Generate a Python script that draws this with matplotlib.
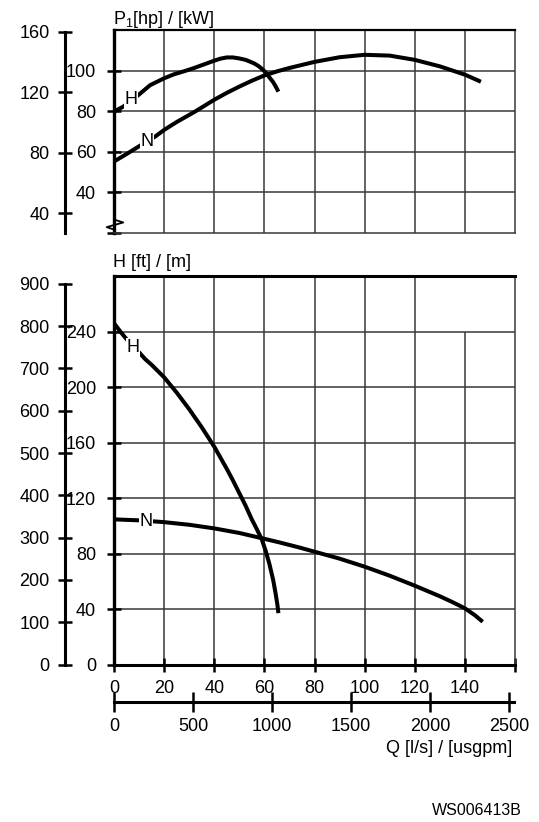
import matplotlib
matplotlib.use("Agg")
import matplotlib.pyplot as plt

plt.rcParams['font.family'] = ['Liberation Sans', 'DejaVu Sans']
plt.rcParams['font.size'] = 13
plt.rcParams['mathtext.fontset'] = 'custom'
plt.rcParams['mathtext.rm'] = 'Liberation Sans'

# power curves, P1 [kW] vs Q [l/s]
q_p_h = [0, 3.7, 9.7, 14.4, 20, 24, 28.3, 32, 36, 40, 42.5, 45, 47.5, 50, 52.5,
         54.3, 56, 57.6, 59, 60.5, 62.3, 63.5, 64.5, 65.6]
p_h = [80, 82.4, 88.1, 93, 96.4, 98.4, 100, 101.5, 103.3, 105.1, 106.1, 106.7, 106.7,
       106.2, 105.5, 104.6, 103.7, 102.5, 101.1, 99.3, 96.4, 94.5, 92.4, 89.8]
q_p_n = [0, 5, 9.7, 16.4, 20, 25, 32.4, 40, 45, 50, 55, 60, 65, 70, 80, 90, 100,
         110, 120, 130, 140, 146.4]
p_n = [55.3, 59, 62.6, 67.6, 70.9, 74.8, 80, 85.8, 89.2, 92.3, 95.2, 97.8, 99.8,
       101.5, 104.5, 106.8, 108, 107.6, 105.5, 102.3, 98.2, 94.7]

# head curves, H [m] vs Q [l/s]
q_h_h = [0, 2.5, 5, 7.5, 10, 12.5, 15, 17.5, 20, 22.5, 25, 27.5, 30, 32.5, 35, 37.5,
         40, 42.5, 45, 47.5, 50, 52.5, 55, 57, 59, 60.5, 62, 63.5, 64.5, 65.2, 65.6]
h_h = [246, 240, 234.5, 229.5, 225, 220, 216, 211.5, 207, 201.5, 196, 190, 184, 177.5,
       171, 164, 157, 149, 141, 132.5, 123.5, 114.5, 104.5, 97.5, 90, 82, 72.5, 61, 51, 43, 37]
q_h_n = [0, 10, 20, 30, 40, 50, 59, 66, 74, 80, 90, 100, 110, 120, 130, 135, 140, 144, 147.1]
h_n = [104.6, 103.9, 102.6, 100.7, 98.1, 94.8, 91, 88, 84.3, 81.3, 76.3, 70.5,
       64, 56.8, 49.2, 45, 40.5, 35.5, 30.8]

q_ticks = [0, 20, 40, 60, 80, 100, 120, 140, 160]
q_labels = ['0', '20', '40', '60', '80', '100', '120', '140', '']
kw_ticks = [20, 40, 60, 80, 100]
kw_labels = ['', '40', '60', '80', '100']
hp_ticks = [40, 80, 120, 160]
m_ticks = [0, 40, 80, 120, 160, 200, 240]
ft_ticks = [0, 100, 200, 300, 400, 500, 600, 700, 800, 900]
gpm_ticks = [0, 500, 1000, 1500, 2000, 2500]

KW2HP = 1.341
M2FT = 3.2808
LS2GPM = 15.85

W, H = 539, 822
def frac(x0, y0, x1, y1):
    return [x0 / W, 1 - y1 / H, (x1 - x0) / W, (y1 - y0) / H]

fig = plt.figure(figsize=(W / 100, H / 100), dpi=100)
grid_c = '#383838'
grid_lw = 1.1
curve_kw = dict(color='black', lw=2.9, solid_capstyle='butt', solid_joinstyle='round', zorder=3)
lab_box = dict(facecolor='white', edgecolor='none', pad=0.5)

# ---- power panel
ax1 = fig.add_axes(frac(114, 30.5, 515, 233))
ax1.set_xlim(0, 160)
ax1.set_ylim(20, 120)
ax1.vlines(q_ticks[1:-1], 20, 120, color=grid_c, lw=grid_lw, zorder=1)
ax1.hlines([40, 60, 80, 100], 0, 160, color=grid_c, lw=grid_lw, zorder=1)
ax1.plot(q_p_h, p_h, **curve_kw)
ax1.plot(q_p_n, p_n, **curve_kw)
ax1.text(6.8, 85.7, 'H', ha='center', va='center', bbox=lab_box, zorder=4)
ax1.text(13.2, 65, 'N', ha='center', va='center', bbox=lab_box, zorder=4)
ax1.set_xticks([])
ax1.set_yticks(kw_ticks)
ax1.set_yticklabels(kw_labels)
ax1.tick_params(axis='y', direction='inout', length=10, width=1.8, pad=8)
ax1.spines['left'].set_linewidth(2.4)
ax1.spines['top'].set_linewidth(1.6)
ax1.spines['right'].set_linewidth(1.1)
ax1.spines['right'].set_color(grid_c)
ax1.spines['bottom'].set_linewidth(grid_lw)
ax1.spines['bottom'].set_color(grid_c)
# axis break mark
ax1.plot([0.4, 3.7, -2.9, 0.4], [26.5, 25.2, 22.9, 21.5], color='black', lw=1.3,
         clip_on=False, zorder=5)
fig.text(113 / W, 1 - 19 / H, r'P$_\mathregular{1}$[hp] / [kW]', ha='left', va='center')

axhp = fig.add_axes(frac(65, 30.5, 66, 233))
axhp.set_ylim(20 * KW2HP, 120 * KW2HP)
for s in ['top', 'right', 'bottom']:
    axhp.spines[s].set_visible(False)
axhp.spines['left'].set_linewidth(2.2)
axhp.spines['left'].set_bounds(20 * KW2HP, 160)
axhp.set_xticks([])
axhp.set_yticks(hp_ticks)
axhp.tick_params(axis='y', direction='inout', length=10, width=1.8, pad=6)
axhp.patch.set_visible(False)

# ---- head panel
ax2 = fig.add_axes(frac(114, 276, 515, 664.5))
ax2.set_xlim(0, 160)
ax2.set_ylim(0, 280)
for q in q_ticks[1:-1]:
    top = 240 if q == 140 else 280
    ax2.vlines(q, 0, top, color=grid_c, lw=grid_lw, zorder=1)
ax2.hlines(m_ticks[1:], 0, 160, color=grid_c, lw=grid_lw, zorder=1)
ax2.plot(q_h_h, h_h, **curve_kw)
ax2.plot(q_h_n, h_n, **curve_kw)
ax2.text(7.6, 228.8, 'H', ha='center', va='center', bbox=lab_box, zorder=4)
ax2.text(12.8, 103.4, 'N', ha='center', va='center', bbox=lab_box, zorder=4)
ax2.set_xticks(q_ticks)
ax2.set_xticklabels(q_labels)
ax2.set_yticks(m_ticks)
ax2.tick_params(axis='y', direction='inout', length=10, width=1.8, pad=8)
ax2.tick_params(axis='x', direction='inout', length=10, width=1.8, pad=6)
ax2.spines['left'].set_linewidth(2.4)
ax2.spines['top'].set_linewidth(2.2)
ax2.spines['bottom'].set_linewidth(2.2)
ax2.spines['right'].set_linewidth(1.1)
ax2.spines['right'].set_color(grid_c)
fig.text(113 / W, 1 - 262.5 / H, 'H [ft] / [m]', ha='left', va='center')

axft = fig.add_axes(frac(65, 276, 66, 664.5))
axft.set_ylim(0, 280 * M2FT)
for s in ['top', 'right', 'bottom']:
    axft.spines[s].set_visible(False)
axft.spines['left'].set_linewidth(2.2)
axft.spines['left'].set_bounds(0, 900)
axft.set_xticks([])
axft.set_yticks(ft_ticks)
axft.tick_params(axis='y', direction='inout', length=10, width=1.8, pad=6)
axft.patch.set_visible(False)

# ---- usgpm scale
axq = fig.add_axes(frac(114, 700, 515, 701.7))
axq.set_xlim(0, 160 * LS2GPM)
for s in ['top', 'right', 'left']:
    axq.spines[s].set_visible(False)
axq.spines['bottom'].set_linewidth(2.2)
axq.spines['bottom'].set_bounds(0, 159.5 * LS2GPM)
axq.set_yticks([])
axq.set_xticks(gpm_ticks)
axq.tick_params(axis='x', direction='inout', length=14, width=1.8, pad=5)
axq.patch.set_visible(False)

fig.text(512 / W, 1 - 748 / H, 'Q [l/s] / [usgpm]', ha='right', va='center')
fig.text(522 / W, 1 - 810 / H, 'WS006413B', ha='right', va='center', fontsize=11.5)

fig.savefig('out.png', dpi=100)
